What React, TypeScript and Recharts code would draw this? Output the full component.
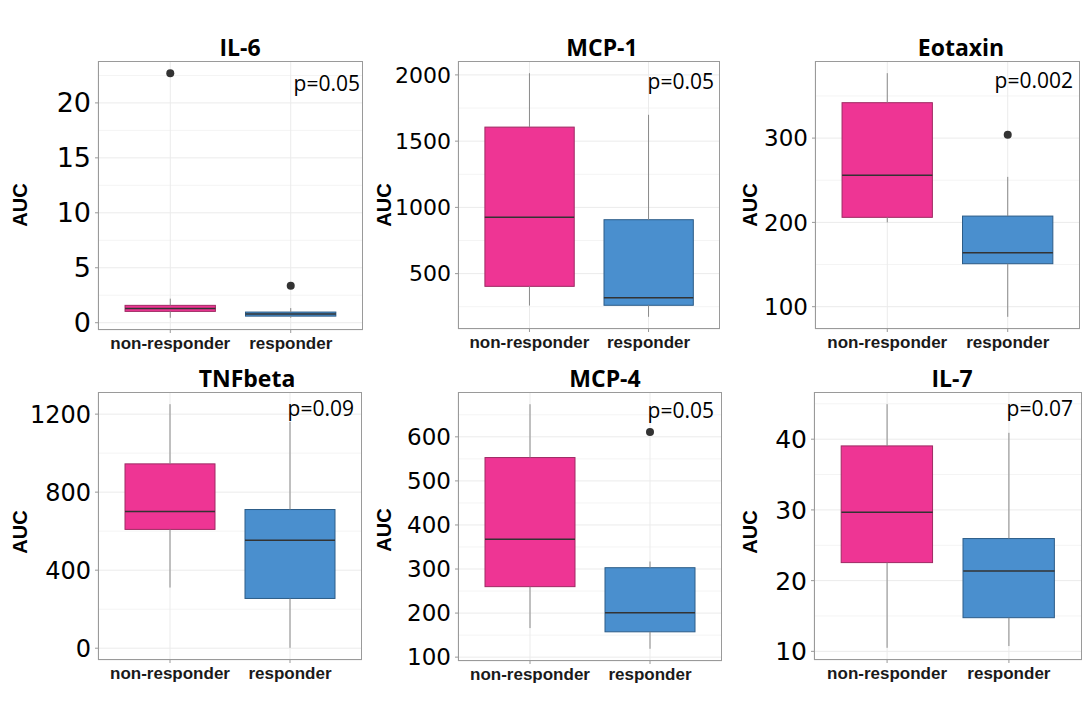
import React from "react";
import { ComposedChart, Bar, Scatter, ErrorBar, XAxis, YAxis, CartesianGrid } from "recharts";

const groups = ["non-responder", "responder"];

// box statistics per group: [min, q1, median, q3, max]
const il6Stats = [[0.45, 1.03, 1.3, 1.58, 2.19], [0.45, 0.6, 0.8, 0.97, 1.33]];
const mcp1Stats = [[259, 404, 925, 1606, 2013], [174, 261, 317, 907, 1699]];
const eotaxinStats = [[200, 206, 256, 342, 377], [88, 151, 164, 207.5, 254]];
const tnfbetaStats = [[311, 609, 701, 945, 1251], [2, 255, 553, 711, 1160]];
const mcp4Stats = [[166, 260, 367.5, 553, 674], [119, 157.5, 200.7, 303, 317]];
const il7Stats = [[10.5, 22.55, 29.67, 39.05, 44.95], [10.75, 14.76, 21.36, 25.95, 40.9]];

// outliers per group
const il6Outliers = [[22.7], [3.37]];
const mcp1Outliers = [[], []];
const eotaxinOutliers = [[], [304]];
const tnfbetaOutliers = [[], []];
const mcp4Outliers = [[], [611]];
const il7Outliers = [[], []];

// y ticks (major) and minor grid values
const il6Ticks = [0, 5, 10, 15, 20];
const il6Minor = [2.5, 7.5, 12.5, 17.5, 22.5];
const mcp1Ticks = [500, 1000, 1500, 2000];
const mcp1Minor = [250, 750, 1250, 1750];
const eotaxinTicks = [100, 200, 300];
const eotaxinMinor = [150, 250, 350];
const tnfbetaTicks = [0, 400, 800, 1200];
const tnfbetaMinor = [200, 600, 1000];
const mcp4Ticks = [100, 200, 300, 400, 500, 600];
const mcp4Minor = [150, 250, 350, 450, 550, 650];
const il7Ticks = [10, 20, 30, 40];
const il7Minor = [15, 25, 35, 45];

const titles = ["IL-6", "MCP-1", "Eotaxin", "TNFbeta", "MCP-4", "IL-7"];
const pValues = ["p=0.05", "p=0.05", "p=0.002", "p=0.09", "p=0.05", "p=0.07"];

const PINK = "#EE3594";
const PINK_EDGE = "#9E2A63";
const BLUE = "#4A8FCE";
const BLUE_EDGE = "#2C5C88";

const SANS = "'Liberation Sans', Arial, sans-serif";
const TICKFONT = "'DejaVu Sans', sans-serif";
const TITLEFONT = "'Open Sans', sans-serif";

const panels = [
  { title: titles[0], p: pValues[0], stats: il6Stats, outliers: il6Outliers, ticks: il6Ticks, minor: il6Minor,
    L: 98, T: 61, R: 363, B: 330, tx: 240, ty: 47, px: 360, py: 83, ax: 20, ay: 205, tickFont: 27 },
  { title: titles[1], p: pValues[1], stats: mcp1Stats, outliers: mcp1Outliers, ticks: mcp1Ticks, minor: mcp1Minor,
    L: 458, T: 61, R: 720, B: 329, tx: 602, ty: 47, px: 714, py: 81, ax: 384, ay: 205, tickFont: 22 },
  { title: titles[2], p: pValues[2], stats: eotaxinStats, outliers: eotaxinOutliers, ticks: eotaxinTicks, minor: eotaxinMinor,
    L: 815, T: 61, R: 1080, B: 329, tx: 961, ty: 47, px: 1073, py: 80, ax: 750, ay: 205, tickFont: 23 },
  { title: titles[3], p: pValues[3], stats: tnfbetaStats, outliers: tnfbetaOutliers, ticks: tnfbetaTicks, minor: tnfbetaMinor,
    L: 98, T: 392, R: 362, B: 660, tx: 247, ty: 378, px: 354, py: 408, ax: 20, ay: 532, tickFont: 24 },
  { title: titles[4], p: pValues[4], stats: mcp4Stats, outliers: mcp4Outliers, ticks: mcp4Ticks, minor: mcp4Minor,
    L: 458, T: 392, R: 722, B: 661, tx: 605, ty: 378, px: 714, py: 410, ax: 384, ay: 530, tickFont: 23 },
  { title: titles[5], p: pValues[5], stats: il7Stats, outliers: il7Outliers, ticks: il7Ticks, minor: il7Minor,
    L: 814, T: 392, R: 1082, B: 660, tx: 952, ty: 378, px: 1073, py: 408, ax: 750, ay: 532, tickFont: 25 },
];

const Empty = () => <g />;

function BoxPanel({ cfg }: { cfg: any }) {
  const { L, T, R, B, stats, outliers, ticks, minor } = cfg;
  const W = R - L;
  const H = B - T;
  const AX = 80;
  const XH = 40;
  const bw = (0.75 * W) / 2.2;
  const pad = W / 22;

  const rows = groups.map((name, i) => {
    const [mn, q1, md, q3, mx] = stats[i];
    return { name, box: [q1, q3], med: md, q1, q3, lowErr: [q1 - mn, 0], highErr: [0, mx - q3], fill: i === 0 ? PINK : BLUE, edge: i === 0 ? PINK_EDGE : BLUE_EDGE };
  });
  const outRows = groups.flatMap((name, i) => outliers[i].map((v: number) => ({ name, value: v })));
  const all = [...stats.flat(), ...outliers.flat()];
  const lo = Math.min(...all);
  const hi = Math.max(...all);
  const ex = (hi - lo) * 0.05;

  const BoxShape = (props: any) => {
    const { x, y, width, height, payload } = props;
    return <rect x={x} y={y} width={width} height={height} fill={payload.fill} stroke={payload.edge} strokeWidth={1} />;
  };
  const MedianShape = (props: any) => {
    const { cx, cy } = props;
    return <line x1={cx - bw / 2} x2={cx + bw / 2} y1={cy} y2={cy} stroke="#333333" strokeWidth={1.5} />;
  };
  const OutShape = (props: any) => {
    const { cx, cy } = props;
    return <circle cx={cx} cy={cy} r={4} fill="#333333" />;
  };

  return (
    <>
      <div style={{ position: "absolute", left: L - AX, top: T }}>
        <ComposedChart width={W + AX} height={H + XH} data={rows} margin={{ top: 0, right: 0, bottom: 0, left: 0 }}>
          <CartesianGrid horizontalValues={minor} vertical={false} stroke="#F4F4F4" />
          <CartesianGrid stroke="#EBEBEB" />
          <XAxis
            dataKey="name"
            type="category"
            allowDuplicatedCategory={false}
            padding={{ left: pad, right: pad }}
            height={XH}
            axisLine={false}
            tickLine={{ stroke: "#999999" }}
            tickSize={3}
            tickMargin={4}
            interval={0}
            tick={{ fontFamily: SANS, fontWeight: 700, fontSize: 17, fill: "#1a1a1a" }}
          />
          <YAxis
            type="number"
            domain={[lo - ex, hi + ex]}
            ticks={ticks}
            interval={0}
            width={AX}
            axisLine={false}
            tickLine={{ stroke: "#999999" }}
            tickSize={3}
            tickMargin={4}
            tick={{ fontFamily: TICKFONT, fontSize: cfg.tickFont, fill: "#000000" }}
          />
          <Scatter dataKey="q3" shape={Empty} isAnimationActive={false}>
            <ErrorBar dataKey="highErr" direction="y" width={0} stroke="#8A8A8A" strokeWidth={1} isAnimationActive={false} />
          </Scatter>
          <Scatter dataKey="q1" shape={Empty} isAnimationActive={false}>
            <ErrorBar dataKey="lowErr" direction="y" width={0} stroke="#8A8A8A" strokeWidth={1} isAnimationActive={false} />
          </Scatter>
          <Bar dataKey="box" barSize={bw} shape={BoxShape} isAnimationActive={false} />
          <Scatter dataKey="med" shape={MedianShape} isAnimationActive={false} />
          {outRows.length > 0 && (
            <Scatter data={outRows} dataKey="value" shape={OutShape} isAnimationActive={false} />
          )}
        </ComposedChart>
      </div>
      <div
        style={{
          position: "absolute", left: L, top: T, width: W, height: H,
          border: "1px solid #9A9A9A", boxSizing: "border-box", pointerEvents: "none",
        }}
      />
      <div
        style={{
          position: "absolute", left: cfg.tx, top: cfg.ty, transform: "translate(-50%, -50%)",
          fontFamily: TITLEFONT, fontWeight: 700, fontSize: 23, lineHeight: 1, whiteSpace: "nowrap", color: "#000",
        }}
      >
        {cfg.title}
      </div>
      <div
        style={{
          position: "absolute", left: cfg.px, top: cfg.py, transform: "translate(-100%, -50%)",
          fontFamily: TITLEFONT, fontSize: 21, lineHeight: 1, whiteSpace: "nowrap", color: "#000",
        }}
      >
        {cfg.p}
      </div>
      <div
        style={{
          position: "absolute", left: cfg.ax, top: cfg.ay, transform: "translate(-50%, -50%) rotate(-90deg)",
          fontFamily: SANS, fontWeight: 700, fontSize: 20, lineHeight: 1, whiteSpace: "nowrap", color: "#000",
        }}
      >
        AUC
      </div>
    </>
  );
}

export default function App() {
  return (
    <div style={{ position: "relative", width: 1084, height: 707, background: "#fff", overflow: "hidden" }}>
      <style>{"body{margin:0;}"}</style>
      {panels.map((cfg, i) => (
        <BoxPanel key={i} cfg={cfg} />
      ))}
    </div>
  );
}
